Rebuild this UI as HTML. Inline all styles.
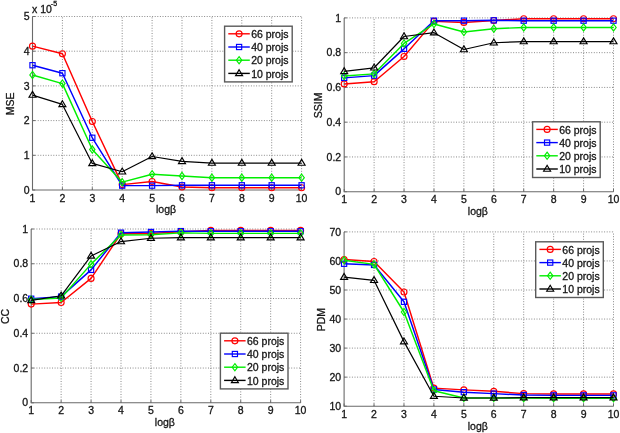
<!DOCTYPE html>
<html><head><meta charset="utf-8"><style>
html,body{margin:0;padding:0;background:#fff;}
body{width:620px;height:433px;overflow:hidden;font-family:"Liberation Sans", sans-serif;}
svg{display:block;filter:blur(0.3px);}
text{stroke:#151515;stroke-width:0.3px;}
</style></head><body>
<svg width="620" height="433" viewBox="0 0 620 433" font-family='"Liberation Sans", sans-serif' font-size="10.5px" fill="#151515" style="will-change:transform">
<rect width="620" height="433" fill="#fff"/>
<path d="M62.4 190V16.5 M92.3 190V16.5 M122.2 190V16.5 M152.1 190V16.5 M182 190V16.5 M211.9 190V16.5 M241.8 190V16.5 M271.7 190V16.5 M301.6 190V16.5 M32.5 155.3H301.6 M32.5 120.6H301.6 M32.5 85.9H301.6 M32.5 51.2H301.6 M32.5 16.5H301.6" stroke="#8a8a8a" stroke-width="1" stroke-dasharray="1 1.6" fill="none"/>
<path d="M32.5 16.5V190H301.6" stroke="#6a6a6a" stroke-width="1.1" fill="none"/>
<path d="M32.5 190v-2.7 M62.4 190v-2.7 M92.3 190v-2.7 M122.2 190v-2.7 M152.1 190v-2.7 M182 190v-2.7 M211.9 190v-2.7 M241.8 190v-2.7 M271.7 190v-2.7 M301.6 190v-2.7 M32.5 190h2.7 M32.5 155.3h2.7 M32.5 120.6h2.7 M32.5 85.9h2.7 M32.5 51.2h2.7 M32.5 16.5h2.7" stroke="#6a6a6a" stroke-width="1" fill="none"/>
<text x="32.5" y="201.6" text-anchor="middle">1</text>
<text x="62.4" y="201.6" text-anchor="middle">2</text>
<text x="92.3" y="201.6" text-anchor="middle">3</text>
<text x="122.2" y="201.6" text-anchor="middle">4</text>
<text x="152.1" y="201.6" text-anchor="middle">5</text>
<text x="182" y="201.6" text-anchor="middle">6</text>
<text x="211.9" y="201.6" text-anchor="middle">7</text>
<text x="241.8" y="201.6" text-anchor="middle">8</text>
<text x="271.7" y="201.6" text-anchor="middle">9</text>
<text x="301.6" y="201.6" text-anchor="middle">10</text>
<text x="29.5" y="193.6" text-anchor="end">0</text>
<text x="29.5" y="158.9" text-anchor="end">1</text>
<text x="29.5" y="124.2" text-anchor="end">2</text>
<text x="29.5" y="89.5" text-anchor="end">3</text>
<text x="29.5" y="54.8" text-anchor="end">4</text>
<text x="29.5" y="20.1" text-anchor="end">5</text>
<text x="166.05" y="213.3" text-anchor="middle">log&#946;</text>
<text transform="translate(14 103.85) rotate(-90)" text-anchor="middle">MSE</text>
<text x="32" y="13.3">x 10</text><text x="50.8" y="6.4" font-size="7px">-5</text>
<polyline points="32.5,46.15 62.4,53.78 92.3,121.45 122.2,184.6 152.1,181.48 182,187.03 211.9,187.72 241.8,187.72 271.7,187.72 301.6,187.72" fill="none" stroke="#ff0000" stroke-width="1.45" stroke-linejoin="round"/>
<circle cx="32.5" cy="46.15" r="3" fill="none" stroke="#ff0000" stroke-width="1.15"/>
<circle cx="62.4" cy="53.78" r="3" fill="none" stroke="#ff0000" stroke-width="1.15"/>
<circle cx="92.3" cy="121.45" r="3" fill="none" stroke="#ff0000" stroke-width="1.15"/>
<circle cx="122.2" cy="184.6" r="3" fill="none" stroke="#ff0000" stroke-width="1.15"/>
<circle cx="152.1" cy="181.48" r="3" fill="none" stroke="#ff0000" stroke-width="1.15"/>
<circle cx="182" cy="187.03" r="3" fill="none" stroke="#ff0000" stroke-width="1.15"/>
<circle cx="211.9" cy="187.72" r="3" fill="none" stroke="#ff0000" stroke-width="1.15"/>
<circle cx="241.8" cy="187.72" r="3" fill="none" stroke="#ff0000" stroke-width="1.15"/>
<circle cx="271.7" cy="187.72" r="3" fill="none" stroke="#ff0000" stroke-width="1.15"/>
<circle cx="301.6" cy="187.72" r="3" fill="none" stroke="#ff0000" stroke-width="1.15"/>
<polyline points="32.5,65.23 62.4,73.21 92.3,137.76 122.2,185.64 152.1,185.64 182,185.29 211.9,185.29 241.8,185.29 271.7,185.29 301.6,185.29" fill="none" stroke="#0000ff" stroke-width="1.45" stroke-linejoin="round"/>
<rect x="29.9" y="62.63" width="5.2" height="5.2" fill="none" stroke="#0000ff" stroke-width="1.15"/>
<rect x="59.8" y="70.61" width="5.2" height="5.2" fill="none" stroke="#0000ff" stroke-width="1.15"/>
<rect x="89.7" y="135.16" width="5.2" height="5.2" fill="none" stroke="#0000ff" stroke-width="1.15"/>
<rect x="119.6" y="183.04" width="5.2" height="5.2" fill="none" stroke="#0000ff" stroke-width="1.15"/>
<rect x="149.5" y="183.04" width="5.2" height="5.2" fill="none" stroke="#0000ff" stroke-width="1.15"/>
<rect x="179.4" y="182.69" width="5.2" height="5.2" fill="none" stroke="#0000ff" stroke-width="1.15"/>
<rect x="209.3" y="182.69" width="5.2" height="5.2" fill="none" stroke="#0000ff" stroke-width="1.15"/>
<rect x="239.2" y="182.69" width="5.2" height="5.2" fill="none" stroke="#0000ff" stroke-width="1.15"/>
<rect x="269.1" y="182.69" width="5.2" height="5.2" fill="none" stroke="#0000ff" stroke-width="1.15"/>
<rect x="299" y="182.69" width="5.2" height="5.2" fill="none" stroke="#0000ff" stroke-width="1.15"/>
<polyline points="32.5,74.95 62.4,83.62 92.3,149.55 122.2,182.17 152.1,174.19 182,175.93 211.9,177.66 241.8,177.66 271.7,177.66 301.6,177.66" fill="none" stroke="#00ee00" stroke-width="1.45" stroke-linejoin="round"/>
<path d="M32.5 71.35L35.2 74.95L32.5 78.55L29.8 74.95Z" fill="none" stroke="#00ee00" stroke-width="1.15"/>
<path d="M62.4 80.02L65.1 83.62L62.4 87.22L59.7 83.62Z" fill="none" stroke="#00ee00" stroke-width="1.15"/>
<path d="M92.3 145.95L95 149.55L92.3 153.15L89.6 149.55Z" fill="none" stroke="#00ee00" stroke-width="1.15"/>
<path d="M122.2 178.57L124.9 182.17L122.2 185.77L119.5 182.17Z" fill="none" stroke="#00ee00" stroke-width="1.15"/>
<path d="M152.1 170.59L154.8 174.19L152.1 177.79L149.4 174.19Z" fill="none" stroke="#00ee00" stroke-width="1.15"/>
<path d="M182 172.33L184.7 175.93L182 179.53L179.3 175.93Z" fill="none" stroke="#00ee00" stroke-width="1.15"/>
<path d="M211.9 174.06L214.6 177.66L211.9 181.26L209.2 177.66Z" fill="none" stroke="#00ee00" stroke-width="1.15"/>
<path d="M241.8 174.06L244.5 177.66L241.8 181.26L239.1 177.66Z" fill="none" stroke="#00ee00" stroke-width="1.15"/>
<path d="M271.7 174.06L274.4 177.66L271.7 181.26L269 177.66Z" fill="none" stroke="#00ee00" stroke-width="1.15"/>
<path d="M301.6 174.06L304.3 177.66L301.6 181.26L298.9 177.66Z" fill="none" stroke="#00ee00" stroke-width="1.15"/>
<polyline points="32.5,95.08 62.4,104.44 92.3,163.43 122.2,171.76 152.1,156.49 182,161.35 211.9,163.09 241.8,163.09 271.7,163.09 301.6,163.09" fill="none" stroke="#000000" stroke-width="1.2" stroke-linejoin="round"/>
<path d="M32.5 91.38L36 97.28L29 97.28Z" fill="none" stroke="#000000" stroke-width="1.15"/>
<path d="M62.4 100.74L65.9 106.64L58.9 106.64Z" fill="none" stroke="#000000" stroke-width="1.15"/>
<path d="M92.3 159.73L95.8 165.63L88.8 165.63Z" fill="none" stroke="#000000" stroke-width="1.15"/>
<path d="M122.2 168.06L125.7 173.96L118.7 173.96Z" fill="none" stroke="#000000" stroke-width="1.15"/>
<path d="M152.1 152.79L155.6 158.69L148.6 158.69Z" fill="none" stroke="#000000" stroke-width="1.15"/>
<path d="M182 157.65L185.5 163.55L178.5 163.55Z" fill="none" stroke="#000000" stroke-width="1.15"/>
<path d="M211.9 159.39L215.4 165.29L208.4 165.29Z" fill="none" stroke="#000000" stroke-width="1.15"/>
<path d="M241.8 159.39L245.3 165.29L238.3 165.29Z" fill="none" stroke="#000000" stroke-width="1.15"/>
<path d="M271.7 159.39L275.2 165.29L268.2 165.29Z" fill="none" stroke="#000000" stroke-width="1.15"/>
<path d="M301.6 159.39L305.1 165.29L298.1 165.29Z" fill="none" stroke="#000000" stroke-width="1.15"/>
<rect x="224.6" y="26.2" width="67.6" height="55.7" fill="#fff" stroke="#5a5a5a" stroke-width="1.4"/>
<path d="M228.3 33.8H249.8" stroke="#ff0000" stroke-width="1.4"/>
<circle cx="239.1" cy="33.8" r="3" fill="none" stroke="#ff0000" stroke-width="1.15"/>
<text x="251.2" y="38">66 projs</text>
<path d="M228.3 47H249.8" stroke="#0000ff" stroke-width="1.4"/>
<rect x="236.5" y="44.4" width="5.2" height="5.2" fill="none" stroke="#0000ff" stroke-width="1.15"/>
<text x="251.2" y="51.2">40 projs</text>
<path d="M228.3 60.2H249.8" stroke="#00ee00" stroke-width="1.4"/>
<path d="M239.1 56.6L241.8 60.2L239.1 63.8L236.4 60.2Z" fill="none" stroke="#00ee00" stroke-width="1.15"/>
<text x="251.2" y="64.4">20 projs</text>
<path d="M228.3 73.4H249.8" stroke="#000000" stroke-width="1.4"/>
<path d="M239.1 69.7L242.6 75.6L235.6 75.6Z" fill="none" stroke="#000000" stroke-width="1.15"/>
<text x="251.2" y="77.6">10 projs</text>
<path d="M374.12 191.7V17.9 M404.04 191.7V17.9 M433.97 191.7V17.9 M463.89 191.7V17.9 M493.81 191.7V17.9 M523.73 191.7V17.9 M553.66 191.7V17.9 M583.58 191.7V17.9 M613.5 191.7V17.9 M344.2 156.94H613.5 M344.2 122.18H613.5 M344.2 87.42H613.5 M344.2 52.66H613.5 M344.2 17.9H613.5" stroke="#8a8a8a" stroke-width="1" stroke-dasharray="1 1.6" fill="none"/>
<path d="M344.2 17.9V191.7H613.5" stroke="#6a6a6a" stroke-width="1.1" fill="none"/>
<path d="M344.2 191.7v-2.7 M374.12 191.7v-2.7 M404.04 191.7v-2.7 M433.97 191.7v-2.7 M463.89 191.7v-2.7 M493.81 191.7v-2.7 M523.73 191.7v-2.7 M553.66 191.7v-2.7 M583.58 191.7v-2.7 M613.5 191.7v-2.7 M344.2 191.7h2.7 M344.2 156.94h2.7 M344.2 122.18h2.7 M344.2 87.42h2.7 M344.2 52.66h2.7 M344.2 17.9h2.7" stroke="#6a6a6a" stroke-width="1" fill="none"/>
<text x="344.2" y="203.3" text-anchor="middle">1</text>
<text x="374.12" y="203.3" text-anchor="middle">2</text>
<text x="404.04" y="203.3" text-anchor="middle">3</text>
<text x="433.97" y="203.3" text-anchor="middle">4</text>
<text x="463.89" y="203.3" text-anchor="middle">5</text>
<text x="493.81" y="203.3" text-anchor="middle">6</text>
<text x="523.73" y="203.3" text-anchor="middle">7</text>
<text x="553.66" y="203.3" text-anchor="middle">8</text>
<text x="583.58" y="203.3" text-anchor="middle">9</text>
<text x="613.5" y="203.3" text-anchor="middle">10</text>
<text x="341.2" y="195.3" text-anchor="end">0</text>
<text x="341.2" y="160.54" text-anchor="end">0.2</text>
<text x="341.2" y="125.78" text-anchor="end">0.4</text>
<text x="341.2" y="91.02" text-anchor="end">0.6</text>
<text x="341.2" y="56.26" text-anchor="end">0.8</text>
<text x="341.2" y="21.5" text-anchor="end">1</text>
<text x="477.85" y="215" text-anchor="middle">log&#946;</text>
<text transform="translate(322.4 105.4) rotate(-90)" text-anchor="middle">SSIM</text>
<polyline points="344.2,83.94 374.12,81.68 404.04,56.48 433.97,21.38 463.89,22.42 493.81,20.51 523.73,18.77 553.66,18.77 583.58,18.77 613.5,18.77" fill="none" stroke="#ff0000" stroke-width="1.45" stroke-linejoin="round"/>
<circle cx="344.2" cy="83.94" r="3" fill="none" stroke="#ff0000" stroke-width="1.15"/>
<circle cx="374.12" cy="81.68" r="3" fill="none" stroke="#ff0000" stroke-width="1.15"/>
<circle cx="404.04" cy="56.48" r="3" fill="none" stroke="#ff0000" stroke-width="1.15"/>
<circle cx="433.97" cy="21.38" r="3" fill="none" stroke="#ff0000" stroke-width="1.15"/>
<circle cx="463.89" cy="22.42" r="3" fill="none" stroke="#ff0000" stroke-width="1.15"/>
<circle cx="493.81" cy="20.51" r="3" fill="none" stroke="#ff0000" stroke-width="1.15"/>
<circle cx="523.73" cy="18.77" r="3" fill="none" stroke="#ff0000" stroke-width="1.15"/>
<circle cx="553.66" cy="18.77" r="3" fill="none" stroke="#ff0000" stroke-width="1.15"/>
<circle cx="583.58" cy="18.77" r="3" fill="none" stroke="#ff0000" stroke-width="1.15"/>
<circle cx="613.5" cy="18.77" r="3" fill="none" stroke="#ff0000" stroke-width="1.15"/>
<polyline points="344.2,77.86 374.12,75.6 404.04,48.84 433.97,20.68 463.89,20.68 493.81,20.33 523.73,20.68 553.66,20.68 583.58,20.68 613.5,20.68" fill="none" stroke="#0000ff" stroke-width="1.45" stroke-linejoin="round"/>
<rect x="341.6" y="75.26" width="5.2" height="5.2" fill="none" stroke="#0000ff" stroke-width="1.15"/>
<rect x="371.52" y="73" width="5.2" height="5.2" fill="none" stroke="#0000ff" stroke-width="1.15"/>
<rect x="401.44" y="46.24" width="5.2" height="5.2" fill="none" stroke="#0000ff" stroke-width="1.15"/>
<rect x="431.37" y="18.08" width="5.2" height="5.2" fill="none" stroke="#0000ff" stroke-width="1.15"/>
<rect x="461.29" y="18.08" width="5.2" height="5.2" fill="none" stroke="#0000ff" stroke-width="1.15"/>
<rect x="491.21" y="17.73" width="5.2" height="5.2" fill="none" stroke="#0000ff" stroke-width="1.15"/>
<rect x="521.13" y="18.08" width="5.2" height="5.2" fill="none" stroke="#0000ff" stroke-width="1.15"/>
<rect x="551.06" y="18.08" width="5.2" height="5.2" fill="none" stroke="#0000ff" stroke-width="1.15"/>
<rect x="580.98" y="18.08" width="5.2" height="5.2" fill="none" stroke="#0000ff" stroke-width="1.15"/>
<rect x="610.9" y="18.08" width="5.2" height="5.2" fill="none" stroke="#0000ff" stroke-width="1.15"/>
<polyline points="344.2,75.95 374.12,73.86 404.04,43.45 433.97,23.98 463.89,31.98 493.81,28.68 523.73,27.46 553.66,27.46 583.58,27.46 613.5,27.46" fill="none" stroke="#00ee00" stroke-width="1.45" stroke-linejoin="round"/>
<path d="M344.2 72.35L346.9 75.95L344.2 79.55L341.5 75.95Z" fill="none" stroke="#00ee00" stroke-width="1.15"/>
<path d="M374.12 70.26L376.82 73.86L374.12 77.46L371.42 73.86Z" fill="none" stroke="#00ee00" stroke-width="1.15"/>
<path d="M404.04 39.85L406.74 43.45L404.04 47.05L401.34 43.45Z" fill="none" stroke="#00ee00" stroke-width="1.15"/>
<path d="M433.97 20.38L436.67 23.98L433.97 27.58L431.27 23.98Z" fill="none" stroke="#00ee00" stroke-width="1.15"/>
<path d="M463.89 28.38L466.59 31.98L463.89 35.58L461.19 31.98Z" fill="none" stroke="#00ee00" stroke-width="1.15"/>
<path d="M493.81 25.08L496.51 28.68L493.81 32.28L491.11 28.68Z" fill="none" stroke="#00ee00" stroke-width="1.15"/>
<path d="M523.73 23.86L526.43 27.46L523.73 31.06L521.03 27.46Z" fill="none" stroke="#00ee00" stroke-width="1.15"/>
<path d="M553.66 23.86L556.36 27.46L553.66 31.06L550.96 27.46Z" fill="none" stroke="#00ee00" stroke-width="1.15"/>
<path d="M583.58 23.86L586.28 27.46L583.58 31.06L580.88 27.46Z" fill="none" stroke="#00ee00" stroke-width="1.15"/>
<path d="M613.5 23.86L616.2 27.46L613.5 31.06L610.8 27.46Z" fill="none" stroke="#00ee00" stroke-width="1.15"/>
<polyline points="344.2,71.43 374.12,67.78 404.04,36.5 433.97,32.67 463.89,49.53 493.81,42.75 523.73,41.54 553.66,41.54 583.58,41.54 613.5,41.54" fill="none" stroke="#000000" stroke-width="1.2" stroke-linejoin="round"/>
<path d="M344.2 67.73L347.7 73.63L340.7 73.63Z" fill="none" stroke="#000000" stroke-width="1.15"/>
<path d="M374.12 64.08L377.62 69.98L370.62 69.98Z" fill="none" stroke="#000000" stroke-width="1.15"/>
<path d="M404.04 32.8L407.54 38.7L400.54 38.7Z" fill="none" stroke="#000000" stroke-width="1.15"/>
<path d="M433.97 28.97L437.47 34.87L430.47 34.87Z" fill="none" stroke="#000000" stroke-width="1.15"/>
<path d="M463.89 45.83L467.39 51.73L460.39 51.73Z" fill="none" stroke="#000000" stroke-width="1.15"/>
<path d="M493.81 39.05L497.31 44.95L490.31 44.95Z" fill="none" stroke="#000000" stroke-width="1.15"/>
<path d="M523.73 37.84L527.23 43.74L520.23 43.74Z" fill="none" stroke="#000000" stroke-width="1.15"/>
<path d="M553.66 37.84L557.16 43.74L550.16 43.74Z" fill="none" stroke="#000000" stroke-width="1.15"/>
<path d="M583.58 37.84L587.08 43.74L580.08 43.74Z" fill="none" stroke="#000000" stroke-width="1.15"/>
<path d="M613.5 37.84L617 43.74L610 43.74Z" fill="none" stroke="#000000" stroke-width="1.15"/>
<rect x="532.6" y="121.8" width="67.6" height="55.7" fill="#fff" stroke="#5a5a5a" stroke-width="1.4"/>
<path d="M536.3 129.4H557.8" stroke="#ff0000" stroke-width="1.4"/>
<circle cx="547.1" cy="129.4" r="3" fill="none" stroke="#ff0000" stroke-width="1.15"/>
<text x="559.2" y="133.6">66 projs</text>
<path d="M536.3 142.6H557.8" stroke="#0000ff" stroke-width="1.4"/>
<rect x="544.5" y="140" width="5.2" height="5.2" fill="none" stroke="#0000ff" stroke-width="1.15"/>
<text x="559.2" y="146.8">40 projs</text>
<path d="M536.3 155.8H557.8" stroke="#00ee00" stroke-width="1.4"/>
<path d="M547.1 152.2L549.8 155.8L547.1 159.4L544.4 155.8Z" fill="none" stroke="#00ee00" stroke-width="1.15"/>
<text x="559.2" y="160">20 projs</text>
<path d="M536.3 169H557.8" stroke="#000000" stroke-width="1.4"/>
<path d="M547.1 165.3L550.6 171.2L543.6 171.2Z" fill="none" stroke="#000000" stroke-width="1.15"/>
<text x="559.2" y="173.2">10 projs</text>
<path d="M61.13 402.8V229 M91.07 402.8V229 M121 402.8V229 M150.93 402.8V229 M180.87 402.8V229 M210.8 402.8V229 M240.73 402.8V229 M270.67 402.8V229 M300.6 402.8V229 M31.2 368.04H300.6 M31.2 333.28H300.6 M31.2 298.52H300.6 M31.2 263.76H300.6 M31.2 229H300.6" stroke="#8a8a8a" stroke-width="1" stroke-dasharray="1 1.6" fill="none"/>
<path d="M31.2 229V402.8H300.6" stroke="#6a6a6a" stroke-width="1.1" fill="none"/>
<path d="M31.2 402.8v-2.7 M61.13 402.8v-2.7 M91.07 402.8v-2.7 M121 402.8v-2.7 M150.93 402.8v-2.7 M180.87 402.8v-2.7 M210.8 402.8v-2.7 M240.73 402.8v-2.7 M270.67 402.8v-2.7 M300.6 402.8v-2.7 M31.2 402.8h2.7 M31.2 368.04h2.7 M31.2 333.28h2.7 M31.2 298.52h2.7 M31.2 263.76h2.7 M31.2 229h2.7" stroke="#6a6a6a" stroke-width="1" fill="none"/>
<text x="31.2" y="414.4" text-anchor="middle">1</text>
<text x="61.13" y="414.4" text-anchor="middle">2</text>
<text x="91.07" y="414.4" text-anchor="middle">3</text>
<text x="121" y="414.4" text-anchor="middle">4</text>
<text x="150.93" y="414.4" text-anchor="middle">5</text>
<text x="180.87" y="414.4" text-anchor="middle">6</text>
<text x="210.8" y="414.4" text-anchor="middle">7</text>
<text x="240.73" y="414.4" text-anchor="middle">8</text>
<text x="270.67" y="414.4" text-anchor="middle">9</text>
<text x="300.6" y="414.4" text-anchor="middle">10</text>
<text x="28.2" y="406.4" text-anchor="end">0</text>
<text x="28.2" y="371.64" text-anchor="end">0.2</text>
<text x="28.2" y="336.88" text-anchor="end">0.4</text>
<text x="28.2" y="302.12" text-anchor="end">0.6</text>
<text x="28.2" y="267.36" text-anchor="end">0.8</text>
<text x="28.2" y="232.6" text-anchor="end">1</text>
<text x="164.9" y="426.1" text-anchor="middle">log&#946;</text>
<text transform="translate(9.4 316.5) rotate(-90)" text-anchor="middle">CC</text>
<polyline points="31.2,304.11 61.13,302.54 91.07,278.39 121,233.72 150.93,233.54 180.87,231.81 210.8,230.42 240.73,230.42 270.67,230.42 300.6,230.42" fill="none" stroke="#ff0000" stroke-width="1.45" stroke-linejoin="round"/>
<circle cx="31.2" cy="304.11" r="3" fill="none" stroke="#ff0000" stroke-width="1.15"/>
<circle cx="61.13" cy="302.54" r="3" fill="none" stroke="#ff0000" stroke-width="1.15"/>
<circle cx="91.07" cy="278.39" r="3" fill="none" stroke="#ff0000" stroke-width="1.15"/>
<circle cx="121" cy="233.72" r="3" fill="none" stroke="#ff0000" stroke-width="1.15"/>
<circle cx="150.93" cy="233.54" r="3" fill="none" stroke="#ff0000" stroke-width="1.15"/>
<circle cx="180.87" cy="231.81" r="3" fill="none" stroke="#ff0000" stroke-width="1.15"/>
<circle cx="210.8" cy="230.42" r="3" fill="none" stroke="#ff0000" stroke-width="1.15"/>
<circle cx="240.73" cy="230.42" r="3" fill="none" stroke="#ff0000" stroke-width="1.15"/>
<circle cx="270.67" cy="230.42" r="3" fill="none" stroke="#ff0000" stroke-width="1.15"/>
<circle cx="300.6" cy="230.42" r="3" fill="none" stroke="#ff0000" stroke-width="1.15"/>
<polyline points="31.2,298.72 61.13,296.63 91.07,269.87 121,232.68 150.93,231.98 180.87,231.11 210.8,231.29 240.73,231.29 270.67,231.29 300.6,231.29" fill="none" stroke="#0000ff" stroke-width="1.45" stroke-linejoin="round"/>
<rect x="28.6" y="296.12" width="5.2" height="5.2" fill="none" stroke="#0000ff" stroke-width="1.15"/>
<rect x="58.53" y="294.03" width="5.2" height="5.2" fill="none" stroke="#0000ff" stroke-width="1.15"/>
<rect x="88.47" y="267.27" width="5.2" height="5.2" fill="none" stroke="#0000ff" stroke-width="1.15"/>
<rect x="118.4" y="230.08" width="5.2" height="5.2" fill="none" stroke="#0000ff" stroke-width="1.15"/>
<rect x="148.33" y="229.38" width="5.2" height="5.2" fill="none" stroke="#0000ff" stroke-width="1.15"/>
<rect x="178.27" y="228.51" width="5.2" height="5.2" fill="none" stroke="#0000ff" stroke-width="1.15"/>
<rect x="208.2" y="228.69" width="5.2" height="5.2" fill="none" stroke="#0000ff" stroke-width="1.15"/>
<rect x="238.13" y="228.69" width="5.2" height="5.2" fill="none" stroke="#0000ff" stroke-width="1.15"/>
<rect x="268.07" y="228.69" width="5.2" height="5.2" fill="none" stroke="#0000ff" stroke-width="1.15"/>
<rect x="298" y="228.69" width="5.2" height="5.2" fill="none" stroke="#0000ff" stroke-width="1.15"/>
<polyline points="31.2,299.59 61.13,298.02 91.07,264.13 121,234.94 150.93,234.76 180.87,232.85 210.8,233.37 240.73,233.37 270.67,233.37 300.6,233.37" fill="none" stroke="#00ee00" stroke-width="1.45" stroke-linejoin="round"/>
<path d="M31.2 295.99L33.9 299.59L31.2 303.19L28.5 299.59Z" fill="none" stroke="#00ee00" stroke-width="1.15"/>
<path d="M61.13 294.42L63.83 298.02L61.13 301.62L58.43 298.02Z" fill="none" stroke="#00ee00" stroke-width="1.15"/>
<path d="M91.07 260.53L93.77 264.13L91.07 267.73L88.37 264.13Z" fill="none" stroke="#00ee00" stroke-width="1.15"/>
<path d="M121 231.34L123.7 234.94L121 238.54L118.3 234.94Z" fill="none" stroke="#00ee00" stroke-width="1.15"/>
<path d="M150.93 231.16L153.63 234.76L150.93 238.36L148.23 234.76Z" fill="none" stroke="#00ee00" stroke-width="1.15"/>
<path d="M180.87 229.25L183.57 232.85L180.87 236.45L178.17 232.85Z" fill="none" stroke="#00ee00" stroke-width="1.15"/>
<path d="M210.8 229.77L213.5 233.37L210.8 236.97L208.1 233.37Z" fill="none" stroke="#00ee00" stroke-width="1.15"/>
<path d="M240.73 229.77L243.43 233.37L240.73 236.97L238.03 233.37Z" fill="none" stroke="#00ee00" stroke-width="1.15"/>
<path d="M270.67 229.77L273.37 233.37L270.67 236.97L267.97 233.37Z" fill="none" stroke="#00ee00" stroke-width="1.15"/>
<path d="M300.6 229.77L303.3 233.37L300.6 236.97L297.9 233.37Z" fill="none" stroke="#00ee00" stroke-width="1.15"/>
<polyline points="31.2,300.46 61.13,295.77 91.07,255.97 121,241.54 150.93,238.24 180.87,237.72 210.8,237.72 240.73,237.72 270.67,237.72 300.6,237.72" fill="none" stroke="#000000" stroke-width="1.2" stroke-linejoin="round"/>
<path d="M31.2 296.76L34.7 302.66L27.7 302.66Z" fill="none" stroke="#000000" stroke-width="1.15"/>
<path d="M61.13 292.07L64.63 297.97L57.63 297.97Z" fill="none" stroke="#000000" stroke-width="1.15"/>
<path d="M91.07 252.27L94.57 258.17L87.57 258.17Z" fill="none" stroke="#000000" stroke-width="1.15"/>
<path d="M121 237.84L124.5 243.74L117.5 243.74Z" fill="none" stroke="#000000" stroke-width="1.15"/>
<path d="M150.93 234.54L154.43 240.44L147.43 240.44Z" fill="none" stroke="#000000" stroke-width="1.15"/>
<path d="M180.87 234.02L184.37 239.92L177.37 239.92Z" fill="none" stroke="#000000" stroke-width="1.15"/>
<path d="M210.8 234.02L214.3 239.92L207.3 239.92Z" fill="none" stroke="#000000" stroke-width="1.15"/>
<path d="M240.73 234.02L244.23 239.92L237.23 239.92Z" fill="none" stroke="#000000" stroke-width="1.15"/>
<path d="M270.67 234.02L274.17 239.92L267.17 239.92Z" fill="none" stroke="#000000" stroke-width="1.15"/>
<path d="M300.6 234.02L304.1 239.92L297.1 239.92Z" fill="none" stroke="#000000" stroke-width="1.15"/>
<rect x="220.4" y="333.2" width="67.6" height="55.7" fill="#fff" stroke="#5a5a5a" stroke-width="1.4"/>
<path d="M224.1 340.8H245.6" stroke="#ff0000" stroke-width="1.4"/>
<circle cx="234.9" cy="340.8" r="3" fill="none" stroke="#ff0000" stroke-width="1.15"/>
<text x="247" y="345">66 projs</text>
<path d="M224.1 354H245.6" stroke="#0000ff" stroke-width="1.4"/>
<rect x="232.3" y="351.4" width="5.2" height="5.2" fill="none" stroke="#0000ff" stroke-width="1.15"/>
<text x="247" y="358.2">40 projs</text>
<path d="M224.1 367.2H245.6" stroke="#00ee00" stroke-width="1.4"/>
<path d="M234.9 363.6L237.6 367.2L234.9 370.8L232.2 367.2Z" fill="none" stroke="#00ee00" stroke-width="1.15"/>
<text x="247" y="371.4">20 projs</text>
<path d="M224.1 380.4H245.6" stroke="#000000" stroke-width="1.4"/>
<path d="M234.9 376.7L238.4 382.6L231.4 382.6Z" fill="none" stroke="#000000" stroke-width="1.15"/>
<text x="247" y="384.6">10 projs</text>
<path d="M374.03 406.2V231.9 M403.97 406.2V231.9 M433.9 406.2V231.9 M463.83 406.2V231.9 M493.77 406.2V231.9 M523.7 406.2V231.9 M553.63 406.2V231.9 M583.57 406.2V231.9 M613.5 406.2V231.9 M344.1 377.15H613.5 M344.1 348.1H613.5 M344.1 319.05H613.5 M344.1 290H613.5 M344.1 260.95H613.5 M344.1 231.9H613.5" stroke="#8a8a8a" stroke-width="1" stroke-dasharray="1 1.6" fill="none"/>
<path d="M344.1 231.9V406.2H613.5" stroke="#6a6a6a" stroke-width="1.1" fill="none"/>
<path d="M344.1 406.2v-2.7 M374.03 406.2v-2.7 M403.97 406.2v-2.7 M433.9 406.2v-2.7 M463.83 406.2v-2.7 M493.77 406.2v-2.7 M523.7 406.2v-2.7 M553.63 406.2v-2.7 M583.57 406.2v-2.7 M613.5 406.2v-2.7 M344.1 406.2h2.7 M344.1 377.15h2.7 M344.1 348.1h2.7 M344.1 319.05h2.7 M344.1 290h2.7 M344.1 260.95h2.7 M344.1 231.9h2.7" stroke="#6a6a6a" stroke-width="1" fill="none"/>
<text x="344.1" y="417.8" text-anchor="middle">1</text>
<text x="374.03" y="417.8" text-anchor="middle">2</text>
<text x="403.97" y="417.8" text-anchor="middle">3</text>
<text x="433.9" y="417.8" text-anchor="middle">4</text>
<text x="463.83" y="417.8" text-anchor="middle">5</text>
<text x="493.77" y="417.8" text-anchor="middle">6</text>
<text x="523.7" y="417.8" text-anchor="middle">7</text>
<text x="553.63" y="417.8" text-anchor="middle">8</text>
<text x="583.57" y="417.8" text-anchor="middle">9</text>
<text x="613.5" y="417.8" text-anchor="middle">10</text>
<text x="341.1" y="409.8" text-anchor="end">10</text>
<text x="341.1" y="380.75" text-anchor="end">20</text>
<text x="341.1" y="351.7" text-anchor="end">30</text>
<text x="341.1" y="322.65" text-anchor="end">40</text>
<text x="341.1" y="293.6" text-anchor="end">50</text>
<text x="341.1" y="264.55" text-anchor="end">60</text>
<text x="341.1" y="235.5" text-anchor="end">70</text>
<text x="477.8" y="429.5" text-anchor="middle">log&#946;</text>
<text transform="translate(325.2 319.65) rotate(-90)" text-anchor="middle">PDM</text>
<polyline points="344.1,259.56 374.03,261.45 403.97,291.95 433.9,388.11 463.83,389.85 493.77,391.3 523.7,393.63 553.63,393.92 583.57,393.92 613.5,393.92" fill="none" stroke="#ff0000" stroke-width="1.45" stroke-linejoin="round"/>
<circle cx="344.1" cy="259.56" r="3" fill="none" stroke="#ff0000" stroke-width="1.15"/>
<circle cx="374.03" cy="261.45" r="3" fill="none" stroke="#ff0000" stroke-width="1.15"/>
<circle cx="403.97" cy="291.95" r="3" fill="none" stroke="#ff0000" stroke-width="1.15"/>
<circle cx="433.9" cy="388.11" r="3" fill="none" stroke="#ff0000" stroke-width="1.15"/>
<circle cx="463.83" cy="389.85" r="3" fill="none" stroke="#ff0000" stroke-width="1.15"/>
<circle cx="493.77" cy="391.3" r="3" fill="none" stroke="#ff0000" stroke-width="1.15"/>
<circle cx="523.7" cy="393.63" r="3" fill="none" stroke="#ff0000" stroke-width="1.15"/>
<circle cx="553.63" cy="393.92" r="3" fill="none" stroke="#ff0000" stroke-width="1.15"/>
<circle cx="583.57" cy="393.92" r="3" fill="none" stroke="#ff0000" stroke-width="1.15"/>
<circle cx="613.5" cy="393.92" r="3" fill="none" stroke="#ff0000" stroke-width="1.15"/>
<polyline points="344.1,263.77 374.03,264.94 403.97,301.83 433.9,389.56 463.83,392.18 493.77,393.63 523.7,395.08 553.63,395.37 583.57,395.37 613.5,395.37" fill="none" stroke="#0000ff" stroke-width="1.45" stroke-linejoin="round"/>
<rect x="341.5" y="261.17" width="5.2" height="5.2" fill="none" stroke="#0000ff" stroke-width="1.15"/>
<rect x="371.43" y="262.34" width="5.2" height="5.2" fill="none" stroke="#0000ff" stroke-width="1.15"/>
<rect x="401.37" y="299.23" width="5.2" height="5.2" fill="none" stroke="#0000ff" stroke-width="1.15"/>
<rect x="431.3" y="386.96" width="5.2" height="5.2" fill="none" stroke="#0000ff" stroke-width="1.15"/>
<rect x="461.23" y="389.57" width="5.2" height="5.2" fill="none" stroke="#0000ff" stroke-width="1.15"/>
<rect x="491.17" y="391.03" width="5.2" height="5.2" fill="none" stroke="#0000ff" stroke-width="1.15"/>
<rect x="521.1" y="392.48" width="5.2" height="5.2" fill="none" stroke="#0000ff" stroke-width="1.15"/>
<rect x="551.03" y="392.77" width="5.2" height="5.2" fill="none" stroke="#0000ff" stroke-width="1.15"/>
<rect x="580.97" y="392.77" width="5.2" height="5.2" fill="none" stroke="#0000ff" stroke-width="1.15"/>
<rect x="610.9" y="392.77" width="5.2" height="5.2" fill="none" stroke="#0000ff" stroke-width="1.15"/>
<polyline points="344.1,260.29 374.03,264.36 403.97,312 433.9,390.72 463.83,397.99 493.77,397.99 523.7,398.13 553.63,398.28 583.57,398.28 613.5,398.28" fill="none" stroke="#00ee00" stroke-width="1.45" stroke-linejoin="round"/>
<path d="M344.1 256.69L346.8 260.29L344.1 263.89L341.4 260.29Z" fill="none" stroke="#00ee00" stroke-width="1.15"/>
<path d="M374.03 260.75L376.73 264.36L374.03 267.96L371.33 264.36Z" fill="none" stroke="#00ee00" stroke-width="1.15"/>
<path d="M403.97 308.4L406.67 312L403.97 315.6L401.27 312Z" fill="none" stroke="#00ee00" stroke-width="1.15"/>
<path d="M433.9 387.12L436.6 390.72L433.9 394.32L431.2 390.72Z" fill="none" stroke="#00ee00" stroke-width="1.15"/>
<path d="M463.83 394.38L466.53 397.99L463.83 401.59L461.13 397.99Z" fill="none" stroke="#00ee00" stroke-width="1.15"/>
<path d="M493.77 394.38L496.47 397.99L493.77 401.59L491.07 397.99Z" fill="none" stroke="#00ee00" stroke-width="1.15"/>
<path d="M523.7 394.53L526.4 398.13L523.7 401.73L521 398.13Z" fill="none" stroke="#00ee00" stroke-width="1.15"/>
<path d="M553.63 394.68L556.33 398.28L553.63 401.88L550.93 398.28Z" fill="none" stroke="#00ee00" stroke-width="1.15"/>
<path d="M583.57 394.68L586.27 398.28L583.57 401.88L580.87 398.28Z" fill="none" stroke="#00ee00" stroke-width="1.15"/>
<path d="M613.5 394.68L616.2 398.28L613.5 401.88L610.8 398.28Z" fill="none" stroke="#00ee00" stroke-width="1.15"/>
<polyline points="344.1,277.14 374.03,280.33 403.97,341.63 433.9,396.24 463.83,397.99 493.77,397.99 523.7,397.69 553.63,397.69 583.57,397.69 613.5,397.69" fill="none" stroke="#000000" stroke-width="1.2" stroke-linejoin="round"/>
<path d="M344.1 273.44L347.6 279.34L340.6 279.34Z" fill="none" stroke="#000000" stroke-width="1.15"/>
<path d="M374.03 276.63L377.53 282.53L370.53 282.53Z" fill="none" stroke="#000000" stroke-width="1.15"/>
<path d="M403.97 337.93L407.47 343.83L400.47 343.83Z" fill="none" stroke="#000000" stroke-width="1.15"/>
<path d="M433.9 392.54L437.4 398.44L430.4 398.44Z" fill="none" stroke="#000000" stroke-width="1.15"/>
<path d="M463.83 394.29L467.33 400.19L460.33 400.19Z" fill="none" stroke="#000000" stroke-width="1.15"/>
<path d="M493.77 394.29L497.27 400.19L490.27 400.19Z" fill="none" stroke="#000000" stroke-width="1.15"/>
<path d="M523.7 393.99L527.2 399.89L520.2 399.89Z" fill="none" stroke="#000000" stroke-width="1.15"/>
<path d="M553.63 393.99L557.13 399.89L550.13 399.89Z" fill="none" stroke="#000000" stroke-width="1.15"/>
<path d="M583.57 393.99L587.07 399.89L580.07 399.89Z" fill="none" stroke="#000000" stroke-width="1.15"/>
<path d="M613.5 393.99L617 399.89L610 399.89Z" fill="none" stroke="#000000" stroke-width="1.15"/>
<rect x="535.7" y="241.8" width="67.6" height="55.7" fill="#fff" stroke="#5a5a5a" stroke-width="1.4"/>
<path d="M539.4 249.4H560.9" stroke="#ff0000" stroke-width="1.4"/>
<circle cx="550.2" cy="249.4" r="3" fill="none" stroke="#ff0000" stroke-width="1.15"/>
<text x="562.3" y="253.6">66 projs</text>
<path d="M539.4 262.6H560.9" stroke="#0000ff" stroke-width="1.4"/>
<rect x="547.6" y="260" width="5.2" height="5.2" fill="none" stroke="#0000ff" stroke-width="1.15"/>
<text x="562.3" y="266.8">40 projs</text>
<path d="M539.4 275.8H560.9" stroke="#00ee00" stroke-width="1.4"/>
<path d="M550.2 272.2L552.9 275.8L550.2 279.4L547.5 275.8Z" fill="none" stroke="#00ee00" stroke-width="1.15"/>
<text x="562.3" y="280">20 projs</text>
<path d="M539.4 289H560.9" stroke="#000000" stroke-width="1.4"/>
<path d="M550.2 285.3L553.7 291.2L546.7 291.2Z" fill="none" stroke="#000000" stroke-width="1.15"/>
<text x="562.3" y="293.2">10 projs</text>
</svg>
</body></html>
